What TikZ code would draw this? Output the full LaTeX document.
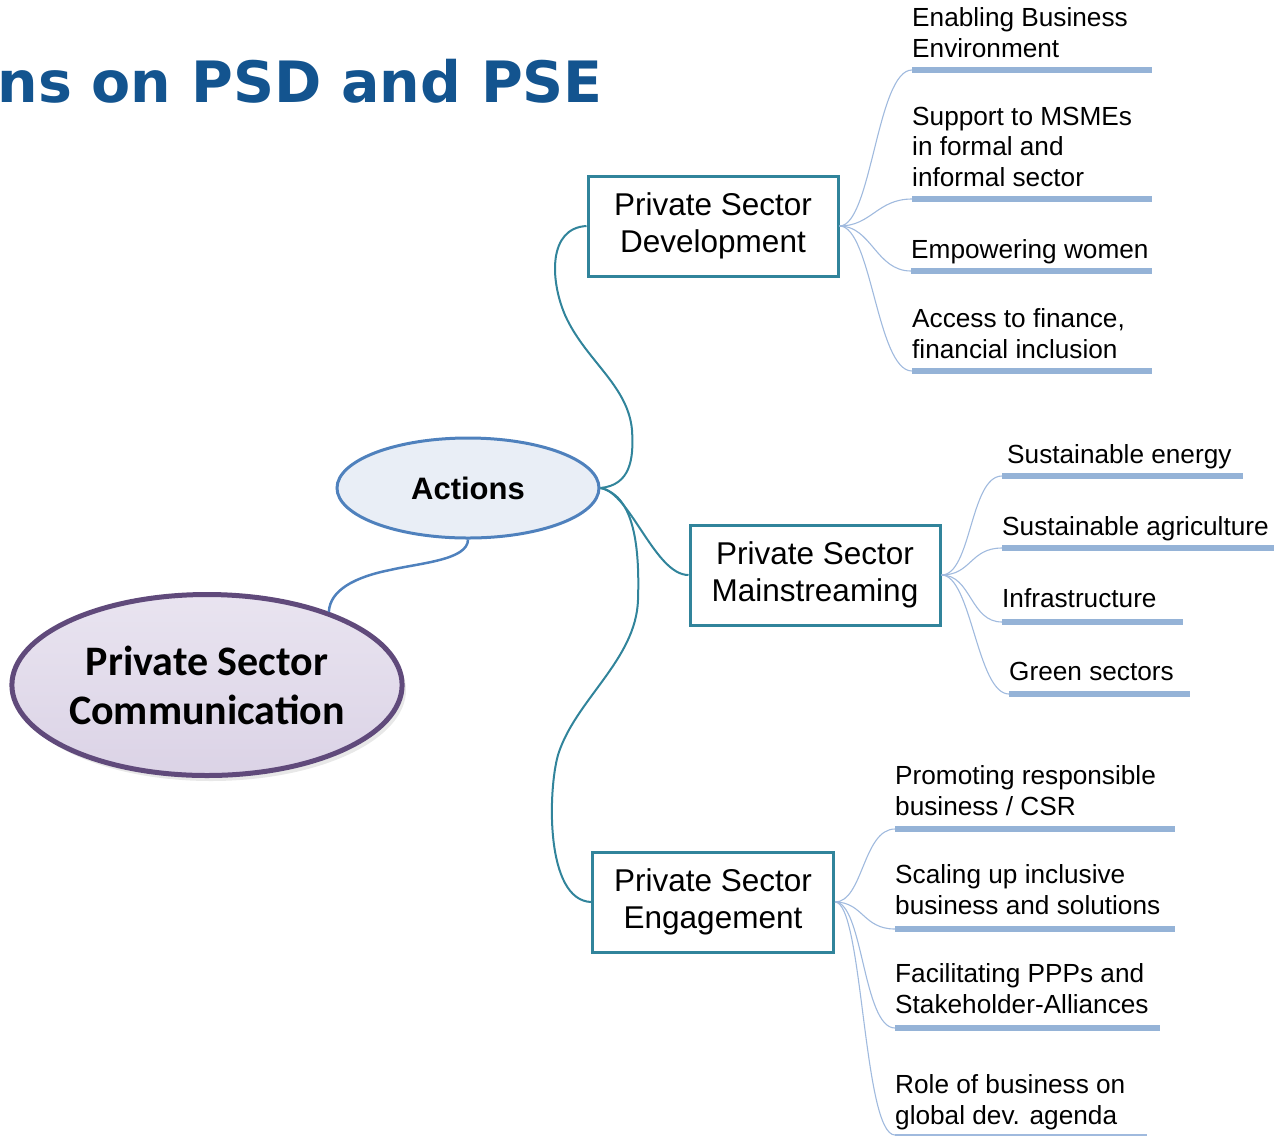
\documentclass[tikz,border=0pt]{standalone}
\usepackage{fontspec}
\setmainfont{Liberation Sans}
\newfontfamily\titlefont{DejaVu Sans}
\newfontfamily\calfont{Carlito}
\usetikzlibrary{shapes.geometric}
\definecolor{titleblue}{RGB}{19,84,143}
\definecolor{tealc}{RGB}{49,132,155}
\definecolor{actblue}{RGB}{79,129,189}
\definecolor{actfill}{RGB}{233,238,246}
\definecolor{purplec}{RGB}{96,74,123}
\definecolor{lavtop}{RGB}{233,228,240}
\definecolor{lavbot}{RGB}{219,211,230}
\definecolor{barblue}{RGB}{149,179,215}
\definecolor{lineblue}{RGB}{160,186,222}
\tikzset{
  mainbox/.style={draw=tealc, line width=3pt, fill=white, minimum width=250pt, minimum height=100pt, inner sep=0pt, align=center, font=\fontsize{31.5}{37}\selectfont},
  leaf/.style={anchor=base west, inner sep=0pt, align=left, font=\fontsize{26.2}{30.5}\selectfont},
  barline/.style={draw=barblue, line width=6pt},
  thinbar/.style={draw=lineblue, line width=1.1pt},
  leafline/.style={draw=lineblue, line width=1.1pt},
  trunk/.style={draw=tealc, line width=2pt},
}
\begin{document}
\begin{tikzpicture}[x=1pt,y=-1pt]
\useasboundingbox (0,0) rectangle (1274,1136);
% title
\node[anchor=base east, inner sep=0pt, text=titleblue, font=\titlefont\bfseries\fontsize{57}{60}\selectfont] (title) at (603,102) {ns on PSD and PSE};

% central nodes
\fill[black!9] (211,690) ellipse [x radius=195pt, y radius=91pt];
\node[ellipse, draw=purplec, line width=5pt, top color=lavtop, bottom color=lavbot, minimum width=386pt, minimum height=181pt, inner sep=0pt, align=center, font=\calfont\bfseries\fontsize{42}{49}\selectfont] (comm) at (207,685) {Private Sector\\Communication};
\node[ellipse, draw=actblue, line width=3pt, fill=actfill, minimum width=262pt, minimum height=100pt, inner sep=0pt, font=\bfseries\fontsize{31}{37}\selectfont] (act) at (468,488) {Actions};

\node[mainbox] (psd) at (713,226) {Private Sector\\Development};
\node[mainbox] (psm) at (815,575) {Private Sector\\Mainstreaming};
\node[mainbox, minimum width=241pt] (pse) at (713,902) {Private Sector\\Engagement};

% trunk connectors
\draw[draw=actblue, line width=2.5pt] (act.south) .. controls (468,560) and (420,563) .. (390,570) .. controls (355,577) and (330,590) .. (comm.31);
\draw[trunk] (act.east) .. controls (630,485) and (634,460) .. (632,430) .. controls (628,385) and (585,360) .. (565,315) .. controls (550,280) and (548,228) .. (psd.west);
\draw[trunk] (act.east) .. controls (630,492) and (655,575) .. (psm.west);
\draw[trunk] (act.east) .. controls (632,495) and (640,540) .. (638,600) .. controls (636,660) and (575,700) .. (558,755) .. controls (548,790) and (545,900) .. (pse.west);

% PSD leaves (anchor = baseline of last line)
\coordinate (a1s) at (912,70);  \coordinate (a1e) at (1152,70);
\coordinate (a2s) at (912,199); \coordinate (a2e) at (1152,199);
\coordinate (a3s) at (911,271); \coordinate (a3e) at (1152,271);
\coordinate (a4s) at (912,371); \coordinate (a4e) at (1152,371);
\node[leaf] (a1) at (912,57) {Enabling Business\\Environment};
\node[leaf] (a2) at (912,186) {Support to MSMEs\\in formal and\\informal sector};
\node[leaf] (a3) at (911,258) {Empowering women};
\node[leaf] (a4) at (912,358) {Access to finance,\\financial inclusion};
\foreach \i in {1,...,4}{
  \draw[barline] (a\i s) -- (a\i e);
  \draw[leafline] (psd.east) .. controls +(32,0) and +(-35,0) .. (a\i s);
}

% PSM leaves
\coordinate (b1s) at (1002,476); \coordinate (b1e) at (1243,476);
\coordinate (b2s) at (1002,548); \coordinate (b2e) at (1274,548);
\coordinate (b3s) at (1002,622); \coordinate (b3e) at (1183,622);
\coordinate (b4s) at (1009,694); \coordinate (b4e) at (1190,694);
\node[leaf] (b1) at (1007,463) {Sustainable energy};
\node[leaf] (b2) at (1002,535) {Sustainable agriculture};
\node[leaf] (b3) at (1002,607) {Infrastructure};
\node[leaf] (b4) at (1009,680) {Green sectors};
\foreach \i in {1,...,4}{
  \draw[barline] (b\i s) -- (b\i e);
  \draw[leafline] (psm.east) .. controls +(30,0) and +(-32,0) .. (b\i s);
}

% PSE leaves
\coordinate (c1s) at (895,829);  \coordinate (c1e) at (1175,829);
\coordinate (c2s) at (895,929);  \coordinate (c2e) at (1175,929);
\coordinate (c3s) at (895,1028); \coordinate (c3e) at (1160,1028);
\coordinate (c4s) at (895,1135); \coordinate (c4e) at (1147,1135);
\node[leaf] (c1) at (895,815) {Promoting responsible\\business / CSR};
\node[leaf] (c2) at (895,914) {Scaling up inclusive\\business and solutions};
\node[leaf] (c3) at (895,1013) {Facilitating PPPs and\\Stakeholder-Alliances};
\node[leaf] (c4) at (895,1124) {Role of business on\\global dev. agenda};
\foreach \i in {1,2,3}{
  \draw[barline] (c\i s) -- (c\i e);
}
\draw[thinbar] (c4s) -- (c4e);
\foreach \i in {1,...,4}{
  \draw[leafline] (pse.east) .. controls +(28,0) and +(-32,0) .. (c\i s);
}
\end{tikzpicture}
\end{document}
